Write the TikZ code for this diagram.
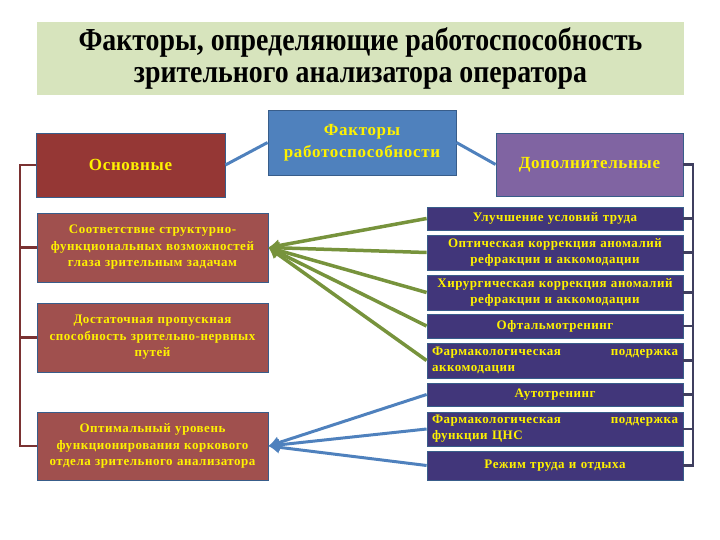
\documentclass[tikz,border=0pt]{standalone}
\usepackage{fontspec}
\setmainfont{Liberation Serif}
\newfontfamily\boxfont[LetterSpace=4]{Liberation Serif}
\newfontfamily\titlefont[FakeStretch=0.87]{Liberation Serif}
\usetikzlibrary{arrows.meta}
\definecolor{titlebg}{HTML}{D7E4BD}
\definecolor{cblue}{HTML}{4F81BD}
\definecolor{osnred}{HTML}{953735}
\definecolor{lred}{HTML}{A0504E}
\definecolor{dpurple}{HTML}{8064A2}
\definecolor{rpurple}{HTML}{41367A}
\definecolor{lgreen}{HTML}{77933C}
\definecolor{txty}{HTML}{FFF200}
\definecolor{bord}{HTML}{385D8A}
\definecolor{lbrk}{HTML}{7A3232}
\definecolor{rbrk}{HTML}{3F3F5F}
\tikzset{
  x=1pt, y=-1pt,
  base/.style={draw=bord, line width=0.8pt, inner sep=2pt, text=txty, align=center},
  titlebox/.style={fill=titlebg, draw=none, text=black, font=\titlefont\fontsize{32}{32}\selectfont\bfseries, align=center},
  bigtxt/.style={font=\boxfont\fontsize{17}{22}\selectfont\bfseries},
  cbox/.style={base, fill=cblue, bigtxt},
  obox/.style={base, fill=osnred, bigtxt},
  dbox/.style={base, fill=dpurple, bigtxt},
  lbox/.style={base, fill=lred, minimum width=231pt, font=\boxfont\fontsize{13}{16.5}\selectfont\bfseries, text width=226pt},
  rbox/.style={base, fill=rpurple, minimum width=256pt, font=\boxfont\fontsize{13}{16}\selectfont\bfseries, text width=246pt},
  bline/.style={cblue, line width=3pt},
  garrow/.style={lgreen, line width=3.5pt, -{Latex[length=11pt,width=13pt]}},
  barrow/.style={cblue, line width=3pt, -{Latex[length=11pt,width=13pt]}},
  lbr/.style={lbrk, line width=2.4pt},
  rbr/.style={rbrk, line width=2.4pt},
}
\begin{document}
\begin{tikzpicture}
\useasboundingbox (0,0) rectangle (720,540);
\node[titlebox, minimum width=647pt, minimum height=73pt] (title) at (360.5,58.5)
  {Факторы, определяющие работоспособность\\зрительного анализатора оператора};
\node[cbox, minimum width=188pt, minimum height=65pt] (c) at (362,142.5) {Факторы\\работоспособности};
\node[obox, minimum width=189pt, minimum height=64pt] (osn) at (130.5,165) {Основные};
\node[dbox, minimum width=187pt, minimum height=63pt] (dop) at (589.5,164.5) {Дополнительные};
\node[lbox, minimum height=69pt] (l1) at (152.5,247.5) {Соответствие структурно-\\функциональных возможностей\\глаза зрительным задачам};
\node[lbox, minimum height=69pt] (l2) at (152.5,337.5) {Достаточная пропускная\\способность зрительно-нервных\\путей};
\node[lbox, minimum height=68pt] (l3) at (152.5,446) {Оптимальный уровень\\функционирования коркового\\отдела зрительного анализатора};
\node[rbox, minimum height=23pt] (r1) at (555,218.5) {Улучшение условий труда};
\node[rbox, minimum height=35pt] (r2) at (555,252.5) {Оптическая коррекция аномалий\\рефракции и аккомодации};
\node[rbox, minimum height=35pt] (r3) at (555,292.5) {Хирургическая коррекция аномалий\\рефракции и аккомодации};
\node[rbox, minimum height=24pt] (r4) at (555,326) {Офтальмотренинг};
\node[rbox, minimum height=35pt, align=left] (r5) at (555,360.5) {Фармакологическая\hfill поддержка\\аккомодации};
\node[rbox, minimum height=23pt] (r6) at (555,394.5) {Аутотренинг};
\node[rbox, minimum height=34pt, align=left] (r7) at (555,429) {Фармакологическая\hfill поддержка\\функции ЦНС};
\node[rbox, minimum height=29pt] (r8) at (555,465.5) {Режим труда и отдыха};
% connectors from centre
\draw[bline] (c.west) -- (osn.east);
\draw[bline] (c.east) -- (dop.west);
% brackets
\coordinate (lb) at (20,0);
\coordinate (rb) at (693,0);
\draw[lbr] (osn.west) -- (osn.west -| lb) -- (l3.west -| lb) -- (l3.west);
\foreach \n in {l1,l2} \draw[lbr] (\n.west) -- (\n.west -| lb);
\draw[rbr] (dop.east) -- (dop.east -| rb) -- (r8.east -| rb) -- (r8.east);
\foreach \n in {r1,r2,r3,r4,r5,r6,r7} \draw[rbr] (\n.east) -- (\n.east -| rb);
% arrows
\foreach \n in {r1,r2,r3,r4,r5} \draw[garrow] (\n.west) -- (l1.east);
\foreach \n in {r6,r7,r8} \draw[barrow] (\n.west) -- (l3.east);
\end{tikzpicture}
\end{document}
